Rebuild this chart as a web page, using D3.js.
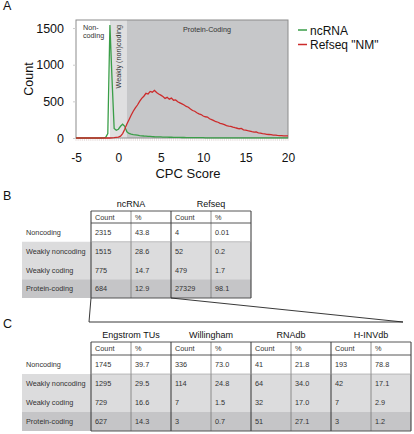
<!DOCTYPE html>
<html><head><meta charset="utf-8">
<script src="https://cdn.jsdelivr.net/npm/d3@7"></script>
<style>body{margin:0;background:#fff}svg{display:block;font-family:"Liberation Sans",Arial,sans-serif}</style>
</head><body><svg id="c" width="414" height="434"></svg>
<script>
// ---------- Data: panel A ----------
const scores = [-5,-4.75,-4.5,-4.25,-4,-3.75,-3.5,-3.25,-3,-2.75,-2.5,-2.25,-2,-1.75,-1.5,-1.25,-1,-0.75,-0.5,-0.25,
0,0.25,0.5,0.75,1,1.25,1.5,1.75,2,2.25,2.5,2.75,3,3.25,3.5,3.75,4,4.25,4.5,4.75,
5,5.25,5.5,5.75,6,6.25,6.5,6.75,7,7.25,7.5,7.75,8,8.25,8.5,8.75,9,9.25,9.5,9.75,
10,10.25,10.5,10.75,11,11.25,11.5,11.75,12,12.25,12.5,12.75,13,13.25,13.5,13.75,14,14.25,14.5,14.75,
15,15.25,15.5,15.75,16,16.25,16.5,16.75,17,17.25,17.5,17.75,18,18.25,18.5,18.75,19,19.25,19.5,19.75,20];
const ncRNA = [0,0,0,0,0,0,0,0,0,0,0,0,0,1,8,60,1540,800,130,105,
120,160,188,160,85,62,52,46,42,38,32,30,27,25,22,21,19,17,16,15,
14,13,12,11,10,10,9,9,8,8,7,7,6,6,5,5,5,4,4,4,
4,3,3,3,3,3,3,3,3,3,2,2,2,2,2,2,2,2,2,2,
2,2,2,2,1,1,1,1,1,1,1,1,1,1,1,1,1,1,1,1,1];
const refseq = [0,0,0,0,0,0,0,0,0,0,0,0,0,0,0,0,0,2,4,8,
12,25,60,120,190,250,310,365,410,450,500,540,570,610,600,635,625,650,620,600,
585,565,540,555,530,545,515,520,495,480,465,450,430,420,395,375,365,345,330,320,
300,290,285,262,250,238,222,215,200,192,182,170,162,158,148,140,133,126,130,112,
106,100,95,86,80,82,70,66,60,56,50,48,45,40,38,35,33,32,30,30,28];
const xTicks = [-5,0,5,10,15,20];
const yTicks = [0,500,1000,1500];
const regionNames = ["Non-coding","Weakly (non)coding","Protein-Coding"];
const regionBounds = [-5,-1,1,20];
const seriesNames = ["ncRNA", "Refseq \"NM\""];

// ---------- Data: tables ----------
const rowLabels = ["Noncoding","Weakly noncoding","Weakly coding","Protein-coding"];
const tableBGroups = ["ncRNA","Refseq"];
const tableBCounts = [[2315,1515,775,684],[4,52,479,27329]];
const tableBPct = [["43.8","28.6","14.7","12.9"],["0.01","0.2","1.7","98.1"]];
const tableCGroups = ["Engstrom TUs","Willingham","RNAdb","H-INVdb"];
const tableCCounts = [[1745,1295,729,627],[336,114,7,3],[41,64,32,51],[193,42,7,3]];
const tableCPct = [["39.7","29.5","16.6","14.3"],["73.0","24.8","1.5","0.7"],["21.8","34.0","17.0","27.1"],["78.8","17.1","2.9","1.2"]];
const subHeaders = ["Count","%"];

const svg = d3.select("#c");
const F = "\"Liberation Sans\",Arial,sans-serif";

// ---------- Panel A ----------
const x = d3.scaleLinear().domain([-5,20]).range([76,288]);
const y = d3.scaleLinear().domain([0,1610]).range([138,20]);
const regionFill = ["#ffffff","#dfdfe0","#c6c7c9"];
svg.selectAll("rect.reg").data(regionNames).join("rect").attr("class","reg")
  .attr("x",(d,i)=>x(regionBounds[i])).attr("y",y(1610))
  .attr("width",(d,i)=>x(regionBounds[i+1])-x(regionBounds[i]))
  .attr("height",y(0)-y(1610)).attr("fill",(d,i)=>regionFill[i]);

// faint category ticks along baseline
svg.append("g").selectAll("line").data(scores).join("line")
  .attr("x1",d=>x(d)).attr("x2",d=>x(d)).attr("y1",y(0)).attr("y2",y(0)+3)
  .attr("stroke","#e3d9d9").attr("stroke-width",0.8);

svg.append("rect").attr("x",x(-5)).attr("y",y(1610)).attr("width",x(20)-x(-5)).attr("height",y(0)-y(1610))
  .attr("fill","none").attr("stroke","#8c8c8c").attr("stroke-width",1);

// region labels
svg.append("text").attr("x",83).attr("y",30).attr("font-size",7.2).attr("fill","#333").text("Non-");
svg.append("text").attr("x",83).attr("y",38).attr("font-size",7.2).attr("fill","#333").text("coding");
svg.append("text").attr("transform",`translate(${(x(-1)+x(1))/2+2.5},25) rotate(-90)`).attr("text-anchor","end")
  .attr("font-size",7.2).attr("fill","#333").text(regionNames[1]);
svg.append("text").attr("x",183).attr("y",32).attr("font-size",7.2).attr("fill","#333").text(regionNames[2]);

const line = d3.line().x((d,i)=>x(scores[i])).y(d=>y(d));
svg.append("path").datum(ncRNA).attr("d",line).attr("fill","none").attr("stroke","#3a9e48").attr("stroke-width",1.3);
svg.append("path").datum(refseq).attr("d",line).attr("fill","none").attr("stroke","#cc2b2b").attr("stroke-width",1.3);

// axes
const xa = svg.append("g").attr("transform",`translate(0,${y(0)})`)
  .call(d3.axisBottom(x).tickValues(xTicks).tickSize(0).tickPadding(15.5).tickFormat(d=>String(d)));
xa.select(".domain").remove();
xa.selectAll("text").attr("font-size",12).attr("font-family",F).attr("fill","#111");
const ya = svg.append("g").attr("transform",`translate(${x(-5)},0)`)
  .call(d3.axisLeft(y).tickValues(yTicks).tickSize(3).tickPadding(9).tickFormat(d=>String(d)));
ya.select(".domain").remove();
ya.selectAll("line").attr("stroke","#ccc");
ya.selectAll("text").attr("font-size",12.5).attr("font-family",F).attr("fill","#111");

svg.append("text").attr("transform","translate(33,79) rotate(-90)").attr("text-anchor","middle")
  .attr("font-size",12.5).attr("fill","#111").text("Count");
svg.append("text").attr("x",188).attr("y",177.5).attr("text-anchor","middle").attr("font-size",13).attr("fill","#111").text("CPC Score");

// legend
const legColors = ["#3a9e48","#cc2b2b"];
seriesNames.forEach((n,i)=>{
  const yy = 30 + i*14.5;
  svg.append("line").attr("x1",298).attr("x2",307).attr("y1",yy).attr("y2",yy).attr("stroke",legColors[i]).attr("stroke-width",1.5);
  svg.append("text").attr("x",310).attr("y",yy+4.5).attr("font-size",12).attr("fill","#111").text(n);
});

// panel letters
[["A",10],["B",200],["C",328]].forEach(([t,yy])=>svg.append("text").attr("x",3).attr("y",yy).attr("font-size",12.5).attr("fill","#111").text(t));

// ---------- Tables ----------
function drawTable(groups, counts, pcts, top, headH, bottom, groupLabelY){
  const nCols = groups.length*2;
  const cx = d3.scaleLinear().domain([0,nCols]).range([91, 91 + 40*nCols]);
  const ry = d3.scaleLinear().domain([0,4]).range([top+headH, bottom]);
  const g = svg.append("g");
  const right = cx(nCols);
  g.append("rect").attr("x",cx(0)).attr("y",top).attr("width",right-cx(0)).attr("height",ry(1)-top).attr("fill","#fff");
  g.append("rect").attr("x",22).attr("y",ry(1)).attr("width",right-22).attr("height",ry(3)-ry(1)).attr("fill","#dcdcdd");
  g.append("rect").attr("x",22).attr("y",ry(3)).attr("width",right-22).attr("height",ry(4)-ry(3)).attr("fill","#c5c5c7");
  g.selectAll("text.gh").data(groups).join("text").attr("class","gh")
    .attr("x",(d,i)=>(cx(2*i)+cx(2*i+2))/2).attr("y",groupLabelY).attr("text-anchor","middle")
    .attr("font-size",9).attr("fill","#111").text(d=>d);
  d3.range(nCols).forEach(c=>{
    g.append("text").attr("x",cx(c)+4).attr("y",top+headH/2+2.7).attr("font-size",7.3).attr("fill","#333").text(subHeaders[c%2]);
  });
  g.selectAll("text.rl").data(rowLabels).join("text").attr("class","rl")
    .attr("x",26).attr("y",(d,i)=>(ry(i)+ry(i+1))/2+2.7).attr("font-size",7.3).attr("fill","#333").text(d=>d);
  groups.forEach((gr,gi)=>{
    rowLabels.forEach((r,ri)=>{
      const yy = (ry(ri)+ry(ri+1))/2+2.7;
      g.append("text").attr("x",cx(2*gi)+4).attr("y",yy).attr("font-size",7.3).attr("fill","#333").text(counts[gi][ri]);
      g.append("text").attr("x",cx(2*gi+1)+4).attr("y",yy).attr("font-size",7.3).attr("fill","#333").text(pcts[gi][ri]);
    });
  });
  d3.range(nCols+1).forEach(c=>{
    const major = c%2===0;
    g.append("line").attr("x1",cx(c)).attr("x2",cx(c)).attr("y1",top).attr("y2",bottom)
      .attr("stroke",major?"#333":"#777").attr("stroke-width",major?1:0.8);
  });
  [top, top+headH, bottom].forEach(yy=>{
    g.append("line").attr("x1",cx(0)).attr("x2",right).attr("y1",yy).attr("y2",yy).attr("stroke","#444").attr("stroke-width",0.9);
  });
  g.append("line").attr("x1",cx(0)).attr("x2",right).attr("y1",ry(1)).attr("y2",ry(1)).attr("stroke","#999").attr("stroke-width",0.6);
  return {cx, ry, right};
}
const tB = drawTable(tableBGroups, tableBCounts, tableBPct, 211, 12, 298, 206.5);
const tC = drawTable(tableCGroups, tableCCounts, tableCPct, 342, 13, 431, 338);

const cy = 322;
svg.append("path").attr("d",`M${tB.cx(0)},${298}L${tB.cx(0)-2},${cy}L${tC.right-8},${cy}L${tB.cx(2)},${298}`)
  .attr("fill","none").attr("stroke","#222").attr("stroke-width",0.9);
</script></body></html>
